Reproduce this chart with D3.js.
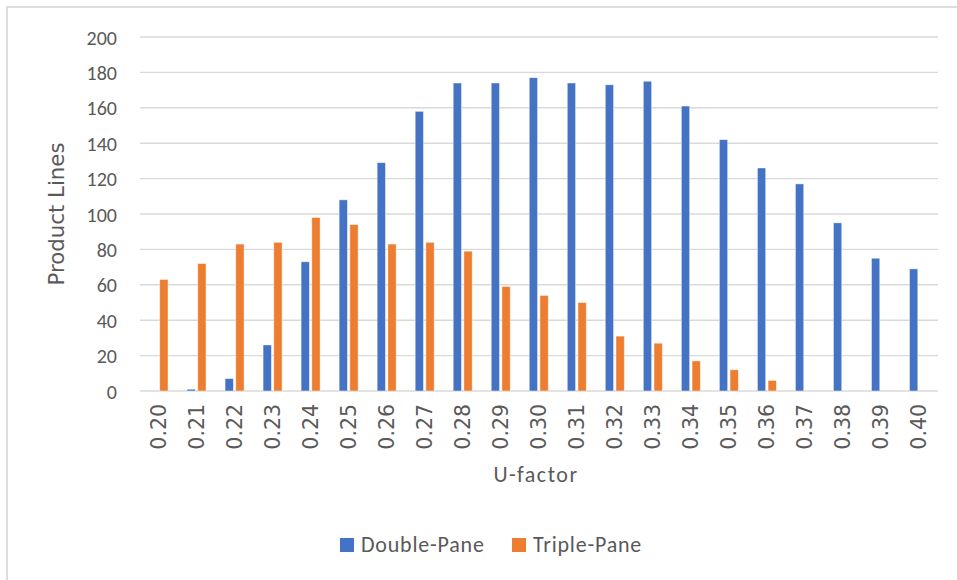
<!DOCTYPE html>
<html>
<head>
<meta charset="utf-8">
<script src="https://cdn.jsdelivr.net/npm/d3@7"></script>
<style>
  html, body { margin: 0; padding: 0; background: #fff; }
  svg { display: block; }
</style>
</head>
<body>
<svg id="chart" width="957" height="580"></svg>
<script>
const categories = ["0.20","0.21","0.22","0.23","0.24","0.25","0.26","0.27","0.28","0.29","0.30",
                    "0.31","0.32","0.33","0.34","0.35","0.36","0.37","0.38","0.39","0.40"];
const doublePane = [0, 1, 7, 26, 73, 108, 129, 158, 174, 174, 177, 174, 173, 175, 161, 142, 126, 117, 95, 75, 69];
const triplePane = [63, 72, 83, 84, 98, 94, 83, 84, 79, 59, 54, 50, 31, 27, 17, 12, 6, 0, 0, 0, 0];
const seriesNames = ["Double-Pane", "Triple-Pane"];
const seriesColors = ["#4472C4", "#ED7D31"];
const yTicks = [0, 20, 40, 60, 80, 100, 120, 140, 160, 180, 200];
const yTitle = "Product Lines";
const xTitle = "U-factor";

const svg = d3.select("#chart");
const textColor = "#595959";
const gridColor = "#d9d9d9";

// chart border
svg.append("rect")
  .attr("x", 7).attr("y", 7)
  .attr("width", 980).attr("height", 600)
  .attr("fill", "#fff")
  .attr("stroke", gridColor).attr("stroke-width", 1.75);

const plot = { left: 139.5, right: 938, top: 37, bottom: 391 };

const x = d3.scaleBand().domain(categories).range([plot.left, plot.right]).paddingInner(0).paddingOuter(0);
const y = d3.scaleLinear().domain([0, 200]).range([plot.bottom, plot.top]);
const groupWidth = 19;
const xs = d3.scaleBand().domain(seriesNames).range([-groupWidth / 2, groupWidth / 2]).paddingInner(0.224).paddingOuter(0);

// gridlines
svg.append("g").selectAll("line").data(yTicks).join("line")
  .attr("x1", plot.left + 0.5).attr("x2", plot.right)
  .attr("y1", d => y(d)).attr("y2", d => y(d))
  .attr("stroke", gridColor).attr("stroke-width", 1.4);

// y axis labels
const yAxis = d3.axisLeft(y).tickValues(yTicks).tickSize(0).tickPadding(0).tickFormat(d3.format("d"));
const gy = svg.append("g").attr("transform", `translate(117,0)`).call(yAxis);
gy.select(".domain").remove();
gy.selectAll("text")
  .attr("fill", textColor)
  .style("font-family", "Carlito, Lato, 'Liberation Sans', sans-serif")
  .style("font-size", "20px")
  .attr("dy", "0.35em");

// bars
const series = [doublePane, triplePane];
series.forEach((vals, si) => {
  svg.append("g").selectAll("rect").data(vals).join("rect")
    .attr("x", (d, i) => x(categories[i]) + x.bandwidth() / 2 + xs(seriesNames[si]))
    .attr("width", xs.bandwidth())
    .attr("y", d => y(d))
    .attr("height", d => y(0) - y(d))
    .attr("fill", seriesColors[si])
    .attr("stroke", "#ffffff").attr("stroke-opacity", 0.55).attr("stroke-width", 0.8);
});

// x axis labels
const xAxis = d3.axisBottom(x).tickSize(0).tickPadding(0);
const gx = svg.append("g").attr("transform", `translate(0,${plot.bottom})`).call(xAxis);
gx.select(".domain").remove();
gx.selectAll("text")
  .attr("fill", textColor)
  .style("font-family", "'DejaVu Sans', sans-serif")
  .style("font-size", "20.5px")
  .attr("text-anchor", "end")
  .attr("transform", "translate(0,13) rotate(-90)")
  .attr("x", 0).attr("y", 0)
  .attr("dy", "0.36em");

// axis titles
svg.append("text")
  .attr("transform", `translate(57,${(plot.top + plot.bottom) / 2}) rotate(-90)`)
  .attr("text-anchor", "middle").attr("dy", "0.35em")
  .attr("fill", textColor)
  .style("font-family", "'DejaVu Sans', sans-serif")
  .style("font-size", "21.3px")
  .text(yTitle);

svg.append("text")
  .attr("x", 536).attr("y", 481.7)
  .attr("text-anchor", "middle")
  .attr("fill", textColor)
  .style("font-family", "Carlito, Lato, 'Liberation Sans', sans-serif")
  .style("font-size", "22px")
  .style("letter-spacing", "1.5px")
  .text(xTitle);

// legend
const legendItems = [
  { name: seriesNames[0], color: seriesColors[0], x: 340 },
  { name: seriesNames[1], color: seriesColors[1], x: 512 }
];
const lg = svg.append("g");
legendItems.forEach(it => {
  lg.append("rect").attr("x", it.x).attr("y", 538).attr("width", 14).attr("height", 14).attr("fill", it.color);
  lg.append("text").attr("x", it.x + 21).attr("y", 552.3)
    .attr("fill", textColor)
    .style("font-family", "Carlito, Lato, 'Liberation Sans', sans-serif")
    .style("font-size", "22px")
    .style("letter-spacing", "0.8px")
    .text(it.name);
});
</script>
</body>
</html>
